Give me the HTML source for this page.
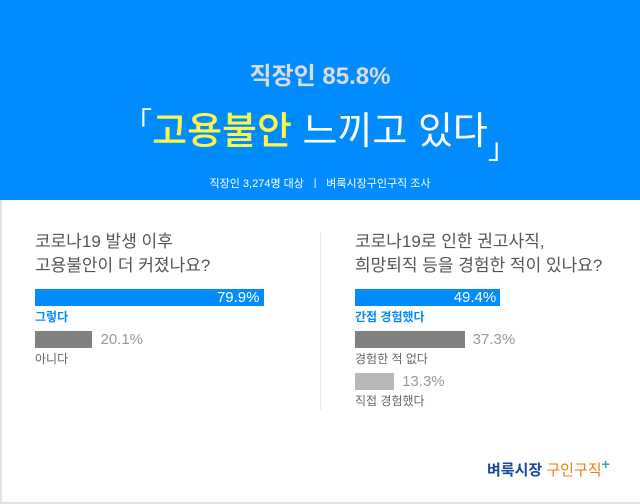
<!DOCTYPE html>
<html><head><meta charset="utf-8"><style>
*{margin:0;padding:0;box-sizing:border-box}
body{width:640px;height:504px;background:#fff;position:relative;overflow:hidden;font-family:"Liberation Sans","Noto Sans CJK KR",sans-serif}
.abs{position:absolute;white-space:nowrap}
#header{position:absolute;left:0;top:0;width:640px;height:200px;background:#008cff}
.q{color:#555;font-size:17px;line-height:24px}
.bar{position:absolute;height:17px}
.val{position:absolute;font-size:15px;line-height:17px}
.lab{position:absolute;font-size:12px;line-height:14px}
</style></head><body>
<div id="header">
<div class="abs" style="left:0;width:640px;text-align:center;top:56px;font-size:24px;font-weight:bold;color:#d8dde3">직장인 85.8%</div>
<div class="abs" style="left:0;width:640px;text-align:center;top:100px;font-size:38px;color:#fff"><span style="font-size:28px;vertical-align:12px">「</span><span style="color:#fff64a;font-weight:500">고용불안</span> 느끼고 있다<span style="font-size:28px;vertical-align:-14px">」</span></div>
<div class="abs" style="left:0;width:640px;text-align:center;top:175px;font-size:11px;color:#fff">직장인 3,274명 대상 &nbsp;ㅣ&nbsp; 벼룩시장구인구직 조사</div>
</div>
<div class="abs" style="left:0;top:200px;width:2px;height:304px;background:#e2e2e2"></div>
<div class="abs" style="left:0;top:502px;width:640px;height:2px;background:#e2e2e2"></div>
<div class="abs" style="left:320px;top:232px;width:1px;height:178px;background:#e8e8e8"></div>
<div class="abs q" style="left:35px;top:230px">코로나19 발생 이후<br>고용불안이 더 커졌나요?</div>
<div class="abs q" style="left:355px;top:230px">코로나19로 인한 권고사직,<br>희망퇴직 등을 경험한 적이 있나요?</div>
<div id="charts"></div>
<div class="abs" style="left:487px;top:456px;font-size:15px;font-weight:bold;color:#1a4aa0">벼룩시장 <span style="color:#f07a10;font-weight:normal">구인구직</span><span style="color:#2bb3a0;font-size:14px;vertical-align:6px">+</span></div>
<script>
const leftCats=["그렇다","아니다"];
const leftVals=[79.9,20.1];
const rightCats=["간접 경험했다","경험한 적 없다","직접 경험했다"];
const rightVals=[49.4,37.3,13.3];
const root=document.getElementById('charts');
function draw(cats,vals,x0,scale,tag){
  const colors=["#008cff","#808080","#b8b8b8"];
  cats.forEach((c,i)=>{
    const y=289+i*42, w=vals[i]*scale;
    const b=document.createElement('div');b.className='bar';
    
    
    b.style.cssText=`left:${x0}px;top:${y}px;width:${w}px;background:${colors[i]}`;
    root.appendChild(b);
    const v=document.createElement('div');v.className='val';
    
    
    v.textContent=vals[i].toFixed(1)+'%';
    if(i===0){v.style.cssText=`left:${x0}px;width:${w-4}px;text-align:right;top:${y}px;color:#fff`;}
    else{v.style.cssText=`left:${x0+w+8}px;top:${y}px;color:#999`;}
    root.appendChild(v);
    const l=document.createElement('div');l.className='lab';
    
    
    l.textContent=c;
    l.style.cssText=`left:${x0}px;top:${y+21}px;color:${i===0?'#008cff':'#666'};${i===0?'font-weight:bold':''}`;
    root.appendChild(l);
  });
}
draw(leftCats,leftVals,35,2.86,'left');
draw(rightCats,rightVals,355,2.94,'right');
</script>
</body></html>
